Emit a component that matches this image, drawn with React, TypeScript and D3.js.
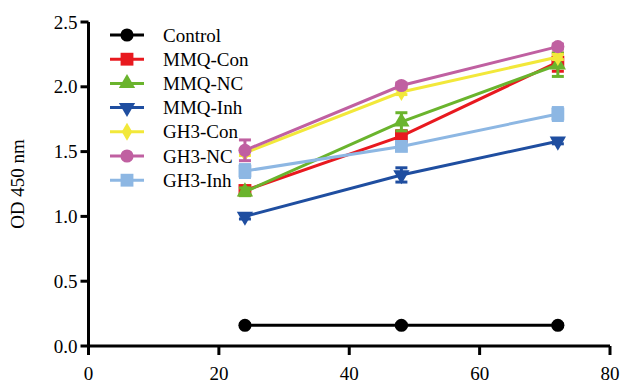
import React from "react";
import * as d3 from "d3";

const hours = [24, 48, 72];
const seriesNames = ["Control", "MMQ-Con", "MMQ-NC", "MMQ-Inh", "GH3-Con", "GH3-NC", "GH3-Inh"];
const seriesColors = ["#000000", "#E8191F", "#6AB42D", "#1F4EA0", "#F2E83A", "#C060A1", "#8DB7E3"];
const seriesShapes = ["circle", "square", "triangle", "triangleDown", "diamond", "circle", "square"];
const controlValues = [0.16, 0.16, 0.16];
const mmqConValues = [1.2, 1.62, 2.19];
const mmqNcValues = [1.19, 1.73, 2.17];
const mmqInhValues = [1.0, 1.32, 1.58];
const gh3ConValues = [1.49, 1.96, 2.23];
const gh3NcValues = [1.51, 2.01, 2.31];
const gh3InhValues = [1.35, 1.54, 1.79];
const controlErr = [0.01, 0.01, 0.01];
const mmqConErr = [0.03, 0.04, 0.07];
const mmqNcErr = [0.03, 0.07, 0.09];
const mmqInhErr = [0.02, 0.055, 0.02];
const gh3ConErr = [0.02, 0.02, 0.02];
const gh3NcErr = [0.08, 0.02, 0.02];
const gh3InhErr = [0.05, 0.03, 0.05];
const xTicks = [0, 20, 40, 60, 80];
const yTicks = [0, 0.5, 1.0, 1.5, 2.0, 2.5];
const yLabel = "OD 450 nm";

const allValues = [controlValues, mmqConValues, mmqNcValues, mmqInhValues, gh3ConValues, gh3NcValues, gh3InhValues];
const allErrs = [controlErr, mmqConErr, mmqNcErr, mmqInhErr, gh3ConErr, gh3NcErr, gh3InhErr];

const W = 623, H = 383;
const x = d3.scaleLinear().domain([0, 80]).range([88.5, 610]);
const y = d3.scaleLinear().domain([0, 2.5]).range([346, 22]);
const font = "Liberation Serif, DejaVu Serif, serif";
const fs = 19;

function markerPath(shape: string): { d: string; rot: number } {
  if (shape === "circle") return { d: d3.symbol(d3.symbolCircle, 135)()!, rot: 0 };
  if (shape === "square") return { d: d3.symbol(d3.symbolSquare, 165)()!, rot: 0 };
  if (shape === "triangle") return { d: d3.symbol(d3.symbolTriangle, 115)()!, rot: 0 };
  if (shape === "triangleDown") return { d: d3.symbol(d3.symbolTriangle, 115)()!, rot: 180 };
  return { d: d3.symbol(d3.symbolDiamond, 95)()!, rot: 0 };
}

export default function App() {
  const line = d3.line<number>().x((_, i) => x(hours[i])).y((v) => y(v));
  const legendX = 127;
  const legendY0 = 35;
  const legendDy = 24.2;
  return (
    <svg width={W} height={H} style={{ position: "absolute", left: 0, top: 0, background: "#fff", fontFamily: font }}>
      {allValues.map((vals, si) => {
        const color = seriesColors[si];
        const m = markerPath(seriesShapes[si]);
        return (
          <g key={si}>
            <path d={line(vals)!} fill="none" stroke={color} strokeWidth={3} />
            {vals.map((v, i) => {
              const e = allErrs[si][i];
              const cx = x(hours[i]);
              return (
                <g key={i}>
                  <line x1={cx} x2={cx} y1={y(v - e)} y2={y(v + e)} stroke={color} strokeWidth={3} />
                  <line x1={cx - 6} x2={cx + 6} y1={y(v + e)} y2={y(v + e)} stroke={color} strokeWidth={3} />
                  <line x1={cx - 6} x2={cx + 6} y1={y(v - e)} y2={y(v - e)} stroke={color} strokeWidth={3} />
                  <path d={m.d} transform={`translate(${cx},${y(v)}) rotate(${m.rot})`} fill={color} />
                </g>
              );
            })}
          </g>
        );
      })}
      <line x1={x(0)} x2={x(80)} y1={y(0)} y2={y(0)} stroke="#000" strokeWidth={3} />
      <line x1={x(0)} x2={x(0)} y1={y(0) + 1.5} y2={y(2.5)} stroke="#000" strokeWidth={3} />
      {xTicks.map((t) => (
        <g key={t}>
          <line x1={x(t)} x2={x(t)} y1={y(0)} y2={y(0) + 9} stroke="#000" strokeWidth={3} />
          <text x={x(t)} y={y(0) + 34} textAnchor="middle" fontFamily={font} fontSize={fs}>{t}</text>
        </g>
      ))}
      {yTicks.map((t) => (
        <g key={t}>
          <line x1={x(0) - 8} x2={x(0)} y1={y(t)} y2={y(t)} stroke="#000" strokeWidth={3} />
          <text x={x(0) - 11} y={y(t)} dy="0.35em" textAnchor="end" fontFamily={font} fontSize={fs}>{d3.format(".1f")(t)}</text>
        </g>
      ))}
      <text transform={`translate(24,${y(1.25)}) rotate(-90)`} textAnchor="middle" fontFamily={font} fontSize={fs}>{yLabel}</text>
      {seriesNames.map((name, si) => {
        const ly = legendY0 + si * legendDy;
        const m = markerPath(seriesShapes[si]);
        return (
          <g key={name}>
            <line x1={legendX - 17} x2={legendX + 17} y1={ly} y2={ly} stroke={seriesColors[si]} strokeWidth={3} />
            <path d={m.d} transform={`translate(${legendX},${ly}) rotate(${m.rot})`} fill={seriesColors[si]} />
            <text x={163} y={ly} dy="0.35em" fontFamily={font} fontSize={fs}>{name}</text>
          </g>
        );
      })}
    </svg>
  );
}
